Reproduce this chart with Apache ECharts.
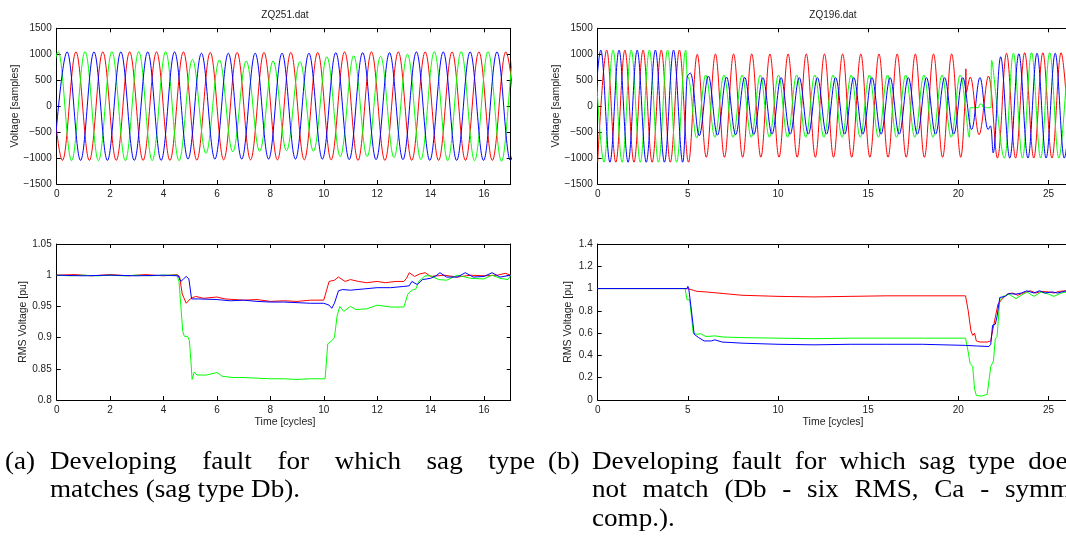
<!DOCTYPE html>
<html><head><meta charset="utf-8">
<script src="https://cdn.jsdelivr.net/npm/echarts@6/dist/echarts.min.js"></script>
<style>html,body{margin:0;padding:0;background:#fff;}#c{width:1066px;height:539px;}</style>
</head><body><div id="c"></div>
<script>
// ================= DATA =================
// Waveform half period (cycles) between successive extremes
const halfL = 0.503;
const halfR = 0.504;

// ---- ZQ251.dat, voltage samples: extremes (alternating sign) per phase ----
const zq251RedStart = [-0.286, 1];   // [time of first extreme, sign]
const zq251RedAmps = [1045,1045,1045,1045,1045,1045,1045,1045,1045,1045,1045,1040,
  1035,1035,1035,1035,1035,1035,1035,1035,1035,1035,
  1045,1045,1045,1045,1045,1045,1045,1045,1045,1045,1045,1045,1045,1045];
const zq251BlueStart = [-0.113, -1];
const zq251BlueAmps = [1045,1045,1045,1045,1045,1045,1045,1045,1045,1045,
  1020,1020,1020,1020,1020,1020,1020,1020,1020,1020,1020,
  1030,1030,1030,1030,1030,1030,
  1045,1045,1045,1045,1045,1045,1045,1045,1045];
const zq251GreenStart = [-0.448, -1];
const zq251GreenAmps = [1050,1050,1050,1050,1050,1050,1050,1050,1050,1050,1050,
  900,910,890,880,870,870,870,860,860,870,
  950,970,970,970,960,990,1000,1030,1050,1050,1050,1050,1050,1060,1050,1050];

// ---- ZQ196.dat, voltage samples: segments of extremes + irregular pieces ----
const zq196RedPreStart = [-0.004, -1];
const zq196RedPreAmps = [1080,1080,1080,1080,1080,1080,1080,1080,1080,1080,1080];
const zq196RedSagStart = [5.52, 1];
const zq196RedSagAmps = [1000,985,1005,985,1005,985,1005,985,1005,985,1005,985,1005,985,1005,
  985,1005,985,1005,985,1005,985,1005,985,1005,985,1005,985,1005,985];
const zq196RedFault = [[20.38,150],[20.42,720],[20.45,260],[20.66,560],[21.15,-550],[21.67,580]];
const zq196RedPostStart = [22.17, -1];
const zq196RedPostAmps = [1000,1020,1000,1030,1000,1030,1000,1030,1000];

const zq196GreenPreStart = [-0.158, 1];
const zq196GreenPreAmps = [1080,1080,1080,1080,1080,1080,1080,1080,1080,1080,1080];
const zq196GreenStep = [[4.95,600],[4.96,560],[5.0,560]];
const zq196GreenSagStart = [5.49, -1];
const zq196GreenSagAmps = [610,600,600,600,600,600,600,600,600,600,600,600,600,600,600,
  600,600,600,600,600,600,600,600,600,600,600,600,600,600,600,600];
const zq196GreenFault = [[20.66,-30],[21.1,-30],[21.2,40],[21.3,40],[21.4,-30],[21.8,-30],[21.85,880]];
const zq196GreenPostStart = [22.55, -1];
const zq196GreenPostAmps = [1000,1020,1000,1030,1000,1030,1000,1030];

const zq196BluePreStart = [-0.33, -1];
const zq196BluePreAmps = [1080,1080,1080,1080,1080,1080,1080,1080,1080,1080,1080];
const zq196BlueStep = [[4.93,400],[4.96,560]];
const zq196BlueSagStart = [5.13, 1];
const zq196BlueSagAmps = [640,570,580,560,560,550,555,545,550,540,550,540,550,540,550,540,
  550,540,550,540,550,540,550,540,550,540,550,540,550,540,550];
const zq196BlueFault = [[20.74,-450],[21.2,550],[21.66,-450],[21.78,-380],[21.93,-900]];
const zq196BluePostStart = [22.35, 1];
const zq196BluePostAmps = [950,1000,1010,1000,1020,1000,1020,1000,1020];

// ---- ZQ251.dat RMS voltage [pu] ----
const rms251Red = [[0,1.0],[0.7,1.001],[1.3,0.999],[2,1.001],[2.7,0.999],[3.3,1.001],[4,0.999],[4.5,1.001],
  [4.6,0.998],[4.7,0.97],[4.85,0.955],[5.0,0.962],[5.2,0.966],[5.5,0.963],[6,0.965],[6.3,0.962],[7,0.96],
  [7.5,0.961],[8,0.958],[8.5,0.959],[9,0.958],[9.5,0.96],[10,0.96],[10.1,0.975],[10.2,0.99],[10.4,0.992],
  [10.55,0.997],[10.8,0.99],[11,0.993],[11.3,0.99],[11.6,0.988],[12,0.99],[12.3,0.988],[12.7,0.99],[13.0,0.99],
  [13.1,0.995],[13.2,1.004],[13.4,0.998],[13.6,1.002],[13.8,1.004],[14,0.998],[14.5,1.0],[15,0.997],
  [15.5,1.0],[16,0.999],[16.5,1.0],[16.8,1.003],[17,1.0]];
const rms251Green = [[0,1.0],[0.5,0.999],[1,1.0],[1.5,0.999],[2,1.0],[2.5,0.999],[3,1.0],[3.5,0.999],[4,1.0],
  [4.5,1.0],[4.58,0.99],[4.65,0.95],[4.72,0.91],[4.78,0.902],[4.9,0.902],[4.97,0.895],[5.03,0.86],[5.07,0.833],
  [5.15,0.845],[5.25,0.84],[5.6,0.84],[6,0.844],[6.2,0.838],[6.6,0.836],[7,0.836],[7.5,0.835],[8,0.834],
  [8.5,0.834],[9,0.833],[9.5,0.834],[10.05,0.834],[10.15,0.89],[10.3,0.895],[10.4,0.9],[10.5,0.935],[10.6,0.95],
  [10.75,0.942],[11,0.95],[11.2,0.945],[11.6,0.946],[12,0.952],[12.5,0.949],[13,0.949],[13.15,0.97],[13.3,0.976],
  [13.45,0.978],[13.55,0.99],[13.8,0.999],[14,0.999],[14.3,0.993],[14.6,0.992],[15,1.0],[15.5,0.995],[16,0.994],
  [16.3,1.0],[16.6,0.995],[16.9,0.993],[17,1.0]];
const rms251Blue = [[0,1.0],[1,0.999],[2,1.0],[3,0.999],[4,1.0],[4.55,0.999],[4.65,0.99],[4.75,0.994],[4.85,0.998],
  [4.95,0.994],[5.05,0.962],[5.3,0.962],[6,0.961],[6.5,0.959],[7,0.96],[7.5,0.958],[8,0.957],[8.5,0.957],[9,0.956],
  [9.5,0.955],[10,0.955],[10.2,0.952],[10.3,0.947],[10.4,0.955],[10.55,0.975],[10.7,0.977],[11,0.976],[11.5,0.978],
  [12,0.98],[12.5,0.98],[13,0.982],[13.2,0.983],[13.3,0.99],[13.5,0.985],[13.7,0.993],[14,0.995],[14.2,0.999],
  [14.35,1.004],[14.6,0.997],[15,0.997],[15.3,1.004],[15.6,0.997],[16,0.998],[16.3,1.004],[16.6,0.997],[17,1.0]];

// ---- ZQ196.dat RMS voltage [pu] ----
const rms196Red = [[0,1],[4.9,1],[5.1,0.995],[5.3,0.985],[5.5,0.975],[6,0.97],[7,0.955],[8,0.94],[9,0.935],
  [10,0.93],[12,0.925],[14,0.93],[16,0.935],[18,0.935],[20.4,0.935],[20.55,0.8],[20.7,0.62],[20.8,0.58],
  [20.9,0.6],[21.0,0.53],[21.2,0.52],[21.6,0.52],[21.8,0.53],[21.9,0.62],[22.0,0.7],[22.2,0.86],[22.4,0.9],
  [22.7,0.95],[23,0.96],[23.3,0.94],[23.6,0.96],[24,0.98],[24.3,0.96],[24.6,0.975],[25,0.97],[25.3,0.96],
  [25.6,0.975],[26,0.98],[26.4,0.97]];
const rms196Green = [[0,1],[4.85,1],[4.95,0.9],[5.05,0.89],[5.1,0.9],[5.3,0.6],[5.5,0.59],[5.7,0.595],[6,0.57],
  [6.5,0.575],[7,0.565],[8,0.56],[10,0.555],[12,0.55],[14,0.555],[16,0.555],[18,0.555],[20.4,0.555],[20.55,0.43],
  [20.65,0.33],[20.8,0.3],[20.9,0.1],[21.0,0.04],[21.3,0.035],[21.6,0.05],[21.7,0.06],[21.8,0.3],[21.95,0.35],
  [22.05,0.55],[22.15,0.57],[22.3,0.9],[22.5,0.93],[22.8,0.95],[23.2,0.91],[23.5,0.94],[23.8,0.97],[24.2,0.93],
  [24.6,0.97],[25,0.95],[25.3,0.93],[25.7,0.96],[26,0.97],[26.4,0.96]];
const rms196Blue = [[0,1],[4.95,1],[5.0,1.02],[5.05,1.0],[5.2,0.8],[5.35,0.59],[5.6,0.56],[5.9,0.53],[6.3,0.53],
  [6.5,0.54],[6.9,0.52],[7.5,0.515],[8,0.51],[9,0.505],[10,0.5],[12,0.495],[14,0.5],[16,0.5],[18,0.5],
  [20.4,0.49],[21,0.485],[21.7,0.48],[21.8,0.5],[21.9,0.67],[22.05,0.68],[22.15,0.75],[22.3,0.92],[22.6,0.93],
  [22.8,0.955],[23.2,0.95],[23.5,0.96],[23.8,0.98],[24.2,0.96],[24.5,0.98],[24.8,0.96],[25.2,0.97],[25.5,0.96],
  [26,0.98],[26.4,0.97]];

// ---- texts ----
const titles = ['ZQ251.dat', 'ZQ196.dat'];
const yNameTop = 'Voltage [samples]';
const yNameBottom = 'RMS Voltage [pu]';
const xNameBottom = 'Time [cycles]';
const capA1 = ['Developing', 'fault', 'for', 'which', 'sag', 'type'];
const capA2 = 'matches (sag type Db).';
const capB1 = ['Developing', 'fault', 'for', 'which', 'sag', 'type', 'does'];
const capB2 = ['not', 'match', '(Db', '-', 'six', 'RMS,', 'Ca', '-', 'symm.'];
const capB3 = 'comp.).';

// ================= BUILD =================
function extremes(start, amps, half) {
  const out = [];
  for (let k = 0; k < amps.length; k++) {
    const s = start[1] * (k % 2 === 0 ? 1 : -1);
    out.push([start[0] + k * half, s * amps[k]]);
  }
  return out;
}
const wave251Red = extremes(zq251RedStart, zq251RedAmps, halfL);
const wave251Blue = extremes(zq251BlueStart, zq251BlueAmps, halfL);
const wave251Green = extremes(zq251GreenStart, zq251GreenAmps, halfL);
const wave196Red = [].concat(extremes(zq196RedPreStart, zq196RedPreAmps, halfR),
  extremes(zq196RedSagStart, zq196RedSagAmps, halfR), zq196RedFault,
  extremes(zq196RedPostStart, zq196RedPostAmps, halfR));
const wave196Green = [].concat(extremes(zq196GreenPreStart, zq196GreenPreAmps, halfR), zq196GreenStep,
  extremes(zq196GreenSagStart, zq196GreenSagAmps, halfR), zq196GreenFault,
  extremes(zq196GreenPostStart, zq196GreenPostAmps, halfR));
const wave196Blue = [].concat(extremes(zq196BluePreStart, zq196BluePreAmps, halfR), zq196BlueStep,
  extremes(zq196BlueSagStart, zq196BlueSagAmps, halfR), zq196BlueFault,
  extremes(zq196BluePostStart, zq196BluePostAmps, halfR));

const FONT = 'Liberation Sans';
const TXT = '#222';
const RED = '#ff0000', GREEN = '#00ff00', BLUE = '#0000ff';

const grids = [
  {left: 56.7, top: 28.3, width: 454, height: 155.7},
  {left: 597.7, top: 28.3, width: 474.2, height: 155.7},
  {left: 56.7, top: 244, width: 454, height: 156},
  {left: 597.7, top: 244, width: 474.2, height: 156}
].map(g => Object.assign({outerBoundsMode: 'none', containLabel: false}, g));
const xSpec = [[0,17,2],[0,26.3,5],[0,17,2],[0,26.3,5]];
const ySpec = [[-1500,1500,500],[-1500,1500,500],[0.8,1.05,0.05],[0,1.4,0.2]];
const minus = v => (v < 0 ? '\u2212' + Math.abs(v) : String(v));

const xAxis = [], yAxis = [];
grids.forEach((g, i) => {
  const [x0, x1, xi] = xSpec[i];
  const [y0, y1, yi] = ySpec[i];
  const line = {show: true, onZero: false, lineStyle: {color: '#000', width: 1}};
  const tick = {show: true, inside: true, length: 4, lineStyle: {color: '#000', width: 1}};
  xAxis.push({type: 'value', gridIndex: i, min: x0, max: x1, interval: xi, position: 'bottom',
    axisLine: line, axisTick: tick, splitLine: {show: false},
    axisLabel: {color: TXT, fontSize: 10, fontFamily: FONT, margin: 5,
      formatter: v => (Math.abs(v / xi - Math.round(v / xi)) < 1e-6 ? String(v) : '')}});
  xAxis.push({type: 'value', gridIndex: i, min: x0, max: x1, interval: xi, position: 'top',
    axisLine: line, axisTick: tick, splitLine: {show: false}, axisLabel: {show: false}});
  yAxis.push({type: 'value', gridIndex: i, min: y0, max: y1, interval: yi, position: 'left',
    axisLine: line, axisTick: tick, splitLine: {show: false},
    axisLabel: {color: TXT, fontSize: 10, fontFamily: FONT, margin: 5, formatter: minus}});
  yAxis.push({type: 'value', gridIndex: i, min: y0, max: y1, interval: yi, position: 'right',
    axisLine: line, axisTick: tick, splitLine: {show: false}, axisLabel: {show: false}});
});

function ser(data, color, i, smooth) {
  return {type: 'line', data: data, xAxisIndex: 2 * i, yAxisIndex: 2 * i, showSymbol: false,
    symbol: 'none', smooth: smooth, clip: true, silent: true,
    lineStyle: {color: color, width: 1}};
}
const series = [
  ser(wave251Red, RED, 0, 0.37), ser(wave251Green, GREEN, 0, 0.37), ser(wave251Blue, BLUE, 0, 0.37),
  ser(wave196Red, RED, 1, 0.37), ser(wave196Green, GREEN, 1, 0.37), ser(wave196Blue, BLUE, 1, 0.37),
  ser(rms251Red, RED, 2, false), ser(rms251Green, GREEN, 2, false), ser(rms251Blue, BLUE, 2, false),
  ser(rms196Red, RED, 3, false), ser(rms196Green, GREEN, 3, false), ser(rms196Blue, BLUE, 3, false)
];

function txt(x, y, s, size) {
  return {type: 'text', x: x, y: y, silent: true,
    style: {text: s, fill: TXT, font: (size || 10) + 'px ' + FONT, textAlign: 'center', textVerticalAlign: 'middle'}};
}
function rtxt(x, y, s) {
  const t = txt(x, y, s, 10.5); t.rotation = Math.PI / 2; return t;
}
// caption typesetting (justified lines like the LaTeX subcaptions)
const SERIF = '25px "Liberation Serif"';
const CAP_SX = 1.085;
const mctx = document.createElement('canvas').getContext('2d');
mctx.font = SERIF;
const wWidth = s => mctx.measureText(s).width * CAP_SX;
function cap(x, y, s) {
  return {type: 'text', x: x, y: y, silent: true, scaleX: CAP_SX,
    style: {text: s, fill: '#000', font: SERIF, textAlign: 'left', textVerticalAlign: 'middle'}};
}
function justify(words, x0, x1, y) {
  const total = words.reduce((a, w) => a + wWidth(w), 0);
  const gap = (x1 - x0 - total) / (words.length - 1);
  const out = []; let x = x0;
  words.forEach(w => { out.push(cap(x, y, w)); x += wWidth(w) + gap; });
  return out;
}
const graphic = [
  txt(285, 15, titles[0]), txt(833, 15, titles[1]),
  rtxt(15, 106, yNameTop), rtxt(556, 106, yNameTop),
  rtxt(23, 322, yNameBottom), rtxt(568, 322, yNameBottom),
  txt(285, 422, xNameBottom, 10.5), txt(833, 422, xNameBottom, 10.5),
  cap(5, 462, '(a)'), ...justify(capA1, 50, 535, 462), cap(50, 490, capA2),
  cap(548, 462, '(b)'), ...justify(capB1, 592, 1078, 462), ...justify(capB2, 592, 1078, 490),
  cap(592, 519, capB3)
];

const chart = echarts.init(document.getElementById('c'), null, {renderer: 'canvas'});
chart.setOption({animation: false, backgroundColor: '#fff', grid: grids, xAxis: xAxis, yAxis: yAxis,
  series: series, graphic: graphic});
</script></body></html>
